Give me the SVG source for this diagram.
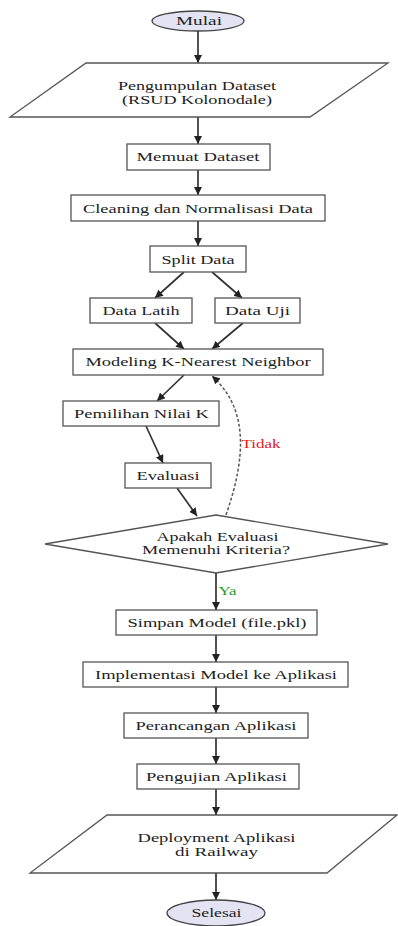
<svg xmlns="http://www.w3.org/2000/svg" width="398" height="926" viewBox="0 0 398 926">
<defs>
<marker id="ah" markerUnits="userSpaceOnUse" markerWidth="9" markerHeight="8" refX="8" refY="4" orient="auto">
<path d="M0,0 L8,4 L0,8 z" fill="#222"/>
</marker>
<style>
.box{fill:#fff;stroke:#555;stroke-width:1.3}
.term{fill:#e3e3f3;stroke:#444;stroke-width:1.3}
.t{font-family:"Liberation Serif","Times New Roman",serif;font-size:13px;fill:#222;text-anchor:middle}
.s{font-size:11.5px}
.c{fill:none;stroke:#333;stroke-width:1.7;marker-end:url(#ah)}
.d{fill:none;stroke:#555;stroke-width:1.5;stroke-dasharray:3,2;marker-end:url(#ah)}
</style>
</defs>
<rect width="398" height="926" fill="#fff"/>
<g id="connectors">
<line class="c" x1="198" y1="31" x2="198" y2="63"/>
<line class="c" x1="198" y1="117" x2="198" y2="144"/>
<line class="c" x1="198" y1="170" x2="198" y2="195"/>
<line class="c" x1="198" y1="221" x2="198" y2="246"/>
<line class="c" x1="184" y1="272" x2="155" y2="298"/>
<line class="c" x1="212" y1="272" x2="242" y2="298"/>
<line class="c" x1="155" y1="323" x2="184" y2="349"/>
<line class="c" x1="243" y1="323" x2="212" y2="349"/>
<line class="c" x1="184" y1="375" x2="157" y2="401"/>
<line class="c" x1="146" y1="426" x2="163" y2="463"/>
<line class="c" x1="177" y1="488" x2="197" y2="516"/>
<path class="d" d="M226,515 C245,460 250,410 212,376"/>
<text x="261" y="448" class="t" style="fill:#e02020" textLength="39" lengthAdjust="spacingAndGlyphs">Tidak</text>
<line class="c" x1="216" y1="573" x2="216" y2="610"/>
<text x="227.5" y="595" class="t" style="fill:#1f9a1f" textLength="18" lengthAdjust="spacingAndGlyphs">Ya</text>
<line class="c" x1="216" y1="635" x2="216" y2="662"/>
<line class="c" x1="216" y1="687" x2="216" y2="713"/>
<line class="c" x1="216" y1="738" x2="216" y2="764"/>
<line class="c" x1="216" y1="789" x2="216" y2="815"/>
<line class="c" x1="216" y1="873" x2="216" y2="900"/>
</g>
<g id="mulai">
<ellipse class="term" cx="198" cy="21" rx="46" ry="10"/>
<text x="199" y="25" class="t" textLength="46" lengthAdjust="spacingAndGlyphs">Mulai</text>
</g>
<g id="pengumpulan">
<polygon class="box" points="86,63 388,63 310,117 10,117"/>
<text x="197" y="90" class="t s" textLength="158" lengthAdjust="spacingAndGlyphs">Pengumpulan Dataset</text>
<text x="197" y="103.5" class="t s" textLength="150" lengthAdjust="spacingAndGlyphs">(RSUD Kolonodale)</text>
</g>
<g id="memuat">
<rect class="box" x="127" y="144" width="143" height="26"/>
<text x="198" y="161" class="t" textLength="123" lengthAdjust="spacingAndGlyphs">Memuat Dataset</text>
</g>
<g id="cleaning">
<rect class="box" x="71" y="195" width="254" height="26"/>
<text x="198" y="213" class="t" textLength="230" lengthAdjust="spacingAndGlyphs">Cleaning dan Normalisasi Data</text>
</g>
<g id="split">
<rect class="box" x="150" y="246" width="96" height="26"/>
<text x="198" y="264" class="t" textLength="73" lengthAdjust="spacingAndGlyphs">Split Data</text>
</g>
<g id="latih">
<rect class="box" x="90" y="298" width="102" height="25"/>
<text x="141" y="315" class="t" textLength="77" lengthAdjust="spacingAndGlyphs">Data Latih</text>
</g>
<g id="uji">
<rect class="box" x="215" y="298" width="85" height="25"/>
<text x="257.5" y="315" class="t" textLength="65" lengthAdjust="spacingAndGlyphs">Data Uji</text>
</g>
<g id="modeling">
<rect class="box" x="73" y="349" width="250" height="26"/>
<text x="198" y="366" class="t" textLength="225" lengthAdjust="spacingAndGlyphs">Modeling K-Nearest Neighbor</text>
</g>
<g id="pemilihan">
<rect class="box" x="63" y="401" width="156" height="25"/>
<text x="141.5" y="418" class="t" textLength="135" lengthAdjust="spacingAndGlyphs">Pemilihan Nilai K</text>
</g>
<g id="evaluasi">
<rect class="box" x="125" y="463" width="86" height="25"/>
<text x="168" y="480" class="t" textLength="63" lengthAdjust="spacingAndGlyphs">Evaluasi</text>
</g>
<g id="keputusan">
<polygon class="box" points="216,515 388,544 216,573 45,544"/>
<text x="217.5" y="540.5" class="t s" textLength="122" lengthAdjust="spacingAndGlyphs">Apakah Evaluasi</text>
<text x="216" y="554" class="t s" textLength="148" lengthAdjust="spacingAndGlyphs">Memenuhi Kriteria?</text>
</g>
<g id="simpan">
<rect class="box" x="116" y="610" width="201" height="25"/>
<text x="217" y="627" class="t" textLength="179" lengthAdjust="spacingAndGlyphs">Simpan Model (file.pkl)</text>
</g>
<g id="implementasi">
<rect class="box" x="83" y="662" width="265" height="25"/>
<text x="216" y="679" class="t" textLength="242" lengthAdjust="spacingAndGlyphs">Implementasi Model ke Aplikasi</text>
</g>
<g id="perancangan">
<rect class="box" x="124" y="713" width="184" height="25"/>
<text x="216" y="730" class="t" textLength="161" lengthAdjust="spacingAndGlyphs">Perancangan Aplikasi</text>
</g>
<g id="pengujian">
<rect class="box" x="137" y="764" width="162" height="25"/>
<text x="216.5" y="781" class="t" textLength="141" lengthAdjust="spacingAndGlyphs">Pengujian Aplikasi</text>
</g>
<g id="deployment">
<polygon class="box" points="107,815 397,815 327,873 30,873"/>
<text x="216.5" y="842" class="t s" textLength="158" lengthAdjust="spacingAndGlyphs">Deployment Aplikasi</text>
<text x="216.5" y="855.5" class="t s" textLength="83" lengthAdjust="spacingAndGlyphs">di Railway</text>
</g>
<g id="selesai">
<ellipse class="term" cx="216" cy="913" rx="49" ry="13"/>
<text x="216.5" y="917" class="t" textLength="50" lengthAdjust="spacingAndGlyphs">Selesai</text>
</g>
</svg>
